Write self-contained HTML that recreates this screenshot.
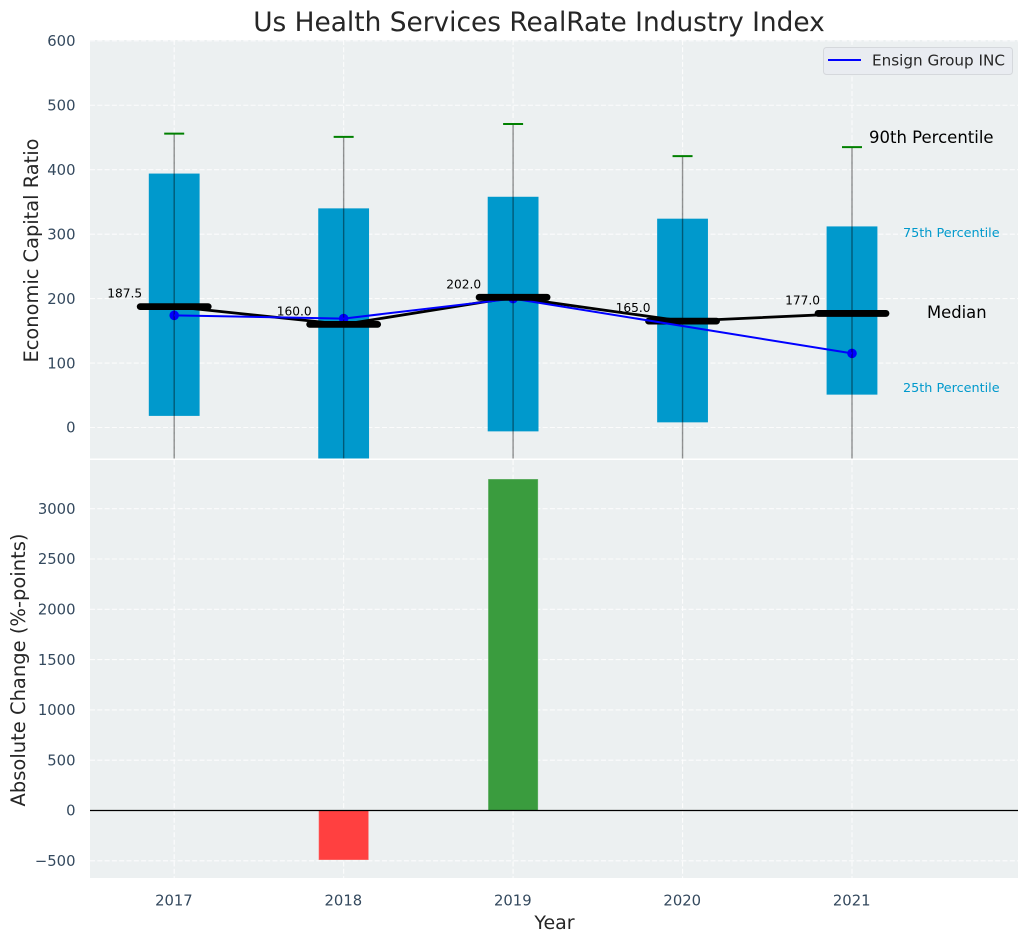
<!DOCTYPE html>
<html>
<head>
<meta charset="utf-8">
<title>Us Health Services RealRate Industry Index</title>
<style>
html,body{margin:0;padding:0;background:#fff;width:1029px;height:942px;overflow:hidden}
svg{display:block}
text{font-family:"DejaVu Sans","Liberation Sans",sans-serif}
</style>
</head>
<body>
<svg id="chart" xmlns="http://www.w3.org/2000/svg" width="1029" height="942" viewBox="0 0 1029 942">
<defs>
<clipPath id="top-clip"><rect x="90" y="40" width="928" height="418.5"/></clipPath>
<clipPath id="bottom-clip"><rect x="90" y="460" width="928" height="418"/></clipPath>
</defs>
<text x="539" y="31" font-size="26.4" fill="#262626" text-anchor="middle">Us Health Services RealRate Industry Index</text>
<rect x="90" y="40" width="928" height="418.5" fill="#ecf0f1"/>
<rect x="90" y="460" width="928" height="418" fill="#ecf0f1"/>
<g id="top-grid"></g>
<g id="bottom-grid"></g>
<g id="top-marks" clip-path="url(#top-clip)"></g>
<g id="bottom-marks" clip-path="url(#bottom-clip)"></g>
<g id="tick-labels"></g>
<g id="value-labels"></g>
<text transform="translate(38,250.5) rotate(-90)" font-size="19.4" fill="#262626" text-anchor="middle">Economic Capital Ratio</text>
<text transform="translate(25,670) rotate(-90)" font-size="19.5" fill="#262626" text-anchor="middle">Absolute Change (%-points)</text>
<text x="554.5" y="929" font-size="19" fill="#262626" text-anchor="middle">Year</text>
<text x="869" y="143" font-size="16.5" fill="#000">90th Percentile</text>
<text x="903" y="237" font-size="12.8" fill="#0099cc">75th Percentile</text>
<text x="927" y="318" font-size="16.4" fill="#000">Median</text>
<text x="903" y="392" font-size="12.8" fill="#0099cc">25th Percentile</text>
<g>
<rect x="823.5" y="47.5" width="189" height="27" rx="3" fill="#e9ecf1" stroke="#d5d8dc" stroke-width="1"/>
<line x1="828" y1="60" x2="861" y2="60" stroke="#0000ff" stroke-width="2"/>
<text x="872" y="65.5" font-size="15.2" fill="#262626">Ensign Group INC</text>
</g>
</svg>
<script>
const years = [2017, 2018, 2019, 2020, 2021];
const p90 = [456, 451, 471, 421, 435];
const p75 = [394, 340, 358, 324, 312];
const medians = [187.5, 160, 202, 165, 177];
const p25 = [18, -60, -6, 8, 51];
const p10 = [-130, -150, -130, -120, -100];
const companyYears = [2017, 2018, 2019, 2021];
const companyValues = [174, 169, 200, 115];
const changes = [0, -492, 3295, 0, 0];
const topTicks = [0, 100, 200, 300, 400, 500, 600];
const bottomTicks = [-500, 0, 500, 1000, 1500, 2000, 2500, 3000];

const NS = 'http://www.w3.org/2000/svg';
function xAxis(y) { return 174.2 + (y - 2017) * 169.45; }
function yTop(v) { return 427.5 - v * 0.6445; }
function yBottom(v) { return 810.5 - v * 0.1006; }
function make(parent, tag, attrs, text) {
  const el = document.createElementNS(NS, tag);
  for (const k in attrs) el.setAttribute(k, attrs[k]);
  if (text !== undefined) el.textContent = text;
  parent.appendChild(el);
  return el;
}
const topGrid = document.getElementById('top-grid');
const bottomGrid = document.getElementById('bottom-grid');
const topMarks = document.getElementById('top-marks');
const bottomMarks = document.getElementById('bottom-marks');
const tickLabels = document.getElementById('tick-labels');
const valueLabels = document.getElementById('value-labels');
const gridStyle = { stroke: '#ffffff', 'stroke-width': 1.1, 'stroke-dasharray': '5 2.3', opacity: 0.85 };

topTicks.forEach(function (t) {
  const g = make(topGrid, 'line', Object.assign({ x1: 90, x2: 1018, y1: yTop(t), y2: yTop(t) }, gridStyle));
  
  
  const l = make(tickLabels, 'text', { x: 75.5, y: yTop(t) + 5.2, 'font-size': 14.8, fill: '#34495e', 'text-anchor': 'end' }, String(t));
  
  
});
bottomTicks.forEach(function (t) {
  const g = make(bottomGrid, 'line', Object.assign({ x1: 90, x2: 1018, y1: yBottom(t), y2: yBottom(t) }, gridStyle));
  
  
  const l = make(tickLabels, 'text', { x: 75.5, y: yBottom(t) + 5.2, 'font-size': 14.8, fill: '#34495e', 'text-anchor': 'end' }, String(t).replace('-', '\u2212'));
  
  
});
years.forEach(function (yr) {
  const x = xAxis(yr);
  const a = make(topGrid, 'line', Object.assign({ x1: x, x2: x, y1: 40, y2: 458.5 }, gridStyle));
  
  
  const b = make(bottomGrid, 'line', Object.assign({ x1: x, x2: x, y1: 460, y2: 878 }, gridStyle));
  
  
  const l = make(tickLabels, 'text', { x: x - 0.3, y: 905.5, 'font-size': 14.8, fill: '#34495e', 'text-anchor': 'middle' }, String(yr));
  
  
});

// interquartile bars
years.forEach(function (yr, i) {
  const x = xAxis(yr);
  const r = make(topMarks, 'rect', { x: x - 25.4, width: 50.8, y: yTop(p75[i]), height: yTop(p25[i]) - yTop(p75[i]), fill: '#0099cc' });
  
  
});
// company markers sit under the lines
companyYears.forEach(function (yr, i) {
  const c = make(topMarks, 'circle', { cx: xAxis(yr), cy: yTop(companyValues[i]), r: 4.8, fill: '#0000ff' });
  
  
});
// whiskers and 90th percentile caps
years.forEach(function (yr, i) {
  const x = xAxis(yr);
  const w = make(topMarks, 'line', { x1: x, x2: x, y1: yTop(p90[i]), y2: yTop(p10[i]), stroke: '#000', 'stroke-opacity': 0.42, 'stroke-width': 1.4 });
  
  
  const cap = make(topMarks, 'line', { x1: x - 10, x2: x + 10, y1: yTop(p90[i]), y2: yTop(p90[i]), stroke: '#008000', 'stroke-width': 2 });
  
  
});
function drawMedian(i) {
  const x = xAxis(years[i]);
  const m = make(topMarks, 'line', { x1: x - 34, x2: x + 34, y1: yTop(medians[i]), y2: yTop(medians[i]), stroke: '#000', 'stroke-width': 6.8, 'stroke-linecap': 'round' });
  
  
}
const medianLine = make(topMarks, 'polyline', { fill: 'none', stroke: '#000', 'stroke-width': 2.8, points: years.map(function (y, i) { return xAxis(y) + ',' + yTop(medians[i]); }).join(' ') });


years.forEach(function (y, i) { if (i !== 2) drawMedian(i); });
const companyLine = make(topMarks, 'polyline', { fill: 'none', stroke: '#0000ff', 'stroke-width': 2, points: companyYears.map(function (y, i) { return xAxis(y) + ',' + yTop(companyValues[i]); }).join(' ') });


drawMedian(2);

years.forEach(function (yr, i) {
  const t = make(valueLabels, 'text', { x: xAxis(yr) - 32, y: yTop(medians[i]) - 9, 'font-size': 12.2, fill: '#000', 'text-anchor': 'end' }, medians[i].toFixed(1));
  
  
});

// change bars
years.forEach(function (yr, i) {
  const v = changes[i];
  if (v === 0) return;
  const x = xAxis(yr);
  const y0 = yBottom(Math.max(v, 0));
  const y1 = yBottom(Math.min(v, 0));
  const r = make(bottomMarks, 'rect', { x: x - 25, width: 50, y: y0, height: y1 - y0, fill: v > 0 ? '#3a9c3e' : '#ff4040', stroke: '#ecf0f1', 'stroke-opacity': 0.35, 'stroke-width': 1 });
  
  
});
const zero = make(bottomMarks, 'line', { x1: 90, x2: 1018, y1: yBottom(0), y2: yBottom(0), stroke: '#000', 'stroke-width': 1.2 });


</script>
</body>
</html>
